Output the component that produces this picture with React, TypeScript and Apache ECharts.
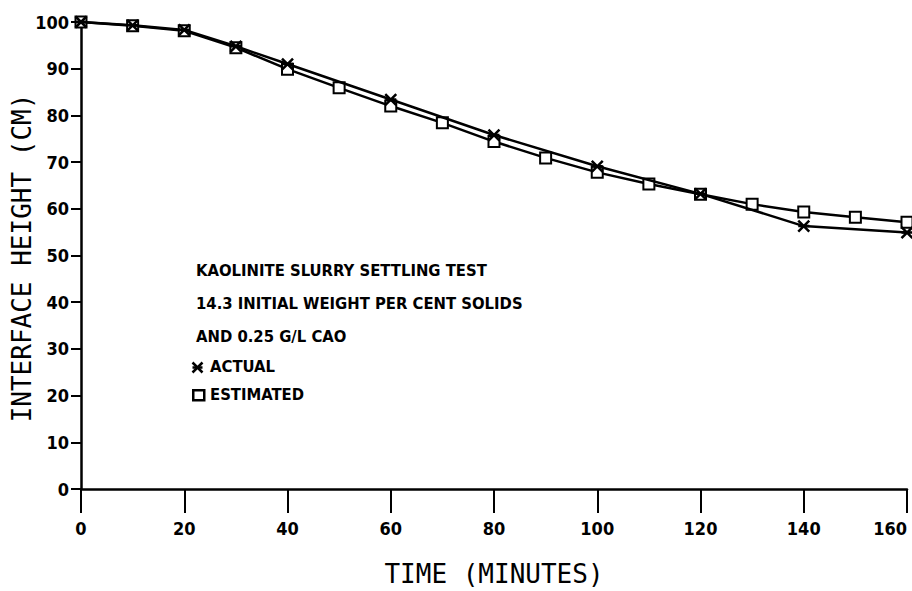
import React, { useEffect, useRef } from "react";
import * as echarts from "echarts";

const timeEstimated = [0, 10, 20, 30, 40, 50, 60, 70, 80, 90, 100, 110, 120, 130, 140, 150, 160];
const heightEstimated = [100, 99.2, 98.1, 94.5, 89.9, 85.9, 82.0, 78.4, 74.4, 70.9, 67.8, 65.3, 63.1, 61.0, 59.3, 58.2, 57.1];
const timeActual = [0, 10, 20, 30, 40, 60, 80, 100, 120, 140, 160];
const heightActual = [100, 99.3, 98.3, 94.8, 91.0, 83.4, 75.8, 69.1, 63.2, 56.3, 54.9];
const noteLines = [
  "KAOLINITE SLURRY SETTLING TEST",
  "14.3 INITIAL WEIGHT PER CENT SOLIDS",
  "AND 0.25 G/L CAO",
];
const legendActual = "ACTUAL";
const legendEstimated = "ESTIMATED";
const yTitle = "INTERFACE HEIGHT (CM)";
const xTitle = "TIME (MINUTES)";

const STAR = "path://M0,0L10,10M10,0L0,10M0,5L10,5";
const TICK_FONT = "'DejaVu Sans Condensed', sans-serif";
const TITLE_FONT = "'DejaVu Sans Mono', monospace";

export default function App() {
  const ref = useRef<HTMLDivElement>(null);
  useEffect(() => {
    document.body.style.margin = "0";
    const chart = echarts.init(ref.current!, null, { renderer: "svg" });
    const noteTexts = noteLines.map((t, i) => ({
      type: "text",
      left: 196,
      top: 262 + i * 33,
      style: { text: t, font: `bold 16.5px ${TICK_FONT}`, fill: "#000" },
    }));
    chart.setOption({
      animation: false,
      backgroundColor: "#fff",
      grid: { left: 81, right: 5, top: 22, bottom: 102, containLabel: false, outerBoundsMode: "none" },
      xAxis: {
        type: "value",
        min: 0,
        max: 160,
        interval: 20,
        name: xTitle,
        nameLocation: "middle",
        nameGap: 72,
        nameTextStyle: { fontFamily: TITLE_FONT, fontSize: 26, color: "#000" },
        axisLine: { lineStyle: { color: "#000", width: 2.5 } },
        axisTick: { show: true, length: 24, lineStyle: { color: "#000", width: 2 } },
        axisLabel: {
          margin: 30,
          fontFamily: TICK_FONT,
          fontWeight: "bold",
          fontSize: 18,
          color: "#000",
          alignMaxLabel: "right",
        },
        splitLine: { show: false },
      },
      yAxis: {
        type: "value",
        min: 0,
        max: 100,
        interval: 10,
        axisLine: { show: true, lineStyle: { color: "#000", width: 2.5 } },
        axisTick: { show: true, length: 10, lineStyle: { color: "#000", width: 2 } },
        axisLabel: { margin: 12, fontFamily: TICK_FONT, fontWeight: "bold", fontSize: 18, color: "#000" },
        splitLine: { show: false },
      },
      series: [
        {
          name: "ESTIMATED",
          type: "line",
          data: timeEstimated.map((t, i) => [t, heightEstimated[i]]),
          symbol: "rect",
          symbolSize: 11,
          lineStyle: { color: "#000", width: 2.5 },
          itemStyle: { color: "#fff", borderColor: "#000", borderWidth: 2 },
          z: 3,
        },
        {
          name: "ACTUAL",
          type: "line",
          data: timeActual.map((t, i) => [t, heightActual[i]]),
          symbol: STAR,
          symbolSize: 11,
          lineStyle: { color: "#000", width: 2.5 },
          itemStyle: { color: "#000", borderColor: "#000", borderWidth: 2.5 },
          z: 4,
        },
      ],
      graphic: [
        {
          type: "text",
          x: 22,
          y: 258,
          rotation: Math.PI / 2,
          style: {
            text: yTitle,
            font: `26px ${TITLE_FONT}`,
            fill: "#000",
            align: "center",
            verticalAlign: "middle",
          },
        },
        ...noteTexts,
        {
          type: "group",
          left: 190,
          top: 360,
          children: [
            { type: "line", shape: { x1: 2, y1: 2, x2: 12, y2: 12 }, style: { stroke: "#000", lineWidth: 2.5 } },
            { type: "line", shape: { x1: 12, y1: 2, x2: 2, y2: 12 }, style: { stroke: "#000", lineWidth: 2.5 } },
            { type: "line", shape: { x1: 2, y1: 7, x2: 12, y2: 7 }, style: { stroke: "#000", lineWidth: 2.5 } },
          ],
        },
        {
          type: "text",
          left: 210,
          top: 358,
          style: { text: legendActual, font: `bold 16.5px ${TICK_FONT}`, fill: "#000" },
        },
        {
          type: "rect",
          left: 192,
          top: 389,
          shape: { width: 11, height: 10 },
          style: { fill: "#fff", stroke: "#000", lineWidth: 2.5 },
        },
        {
          type: "text",
          left: 210,
          top: 386,
          style: { text: legendEstimated, font: `bold 16.5px ${TICK_FONT}`, fill: "#000" },
        },
      ],
    });
    return () => chart.dispose();
  }, []);
  return <div ref={ref} style={{ width: 912, height: 591 }} />;
}
